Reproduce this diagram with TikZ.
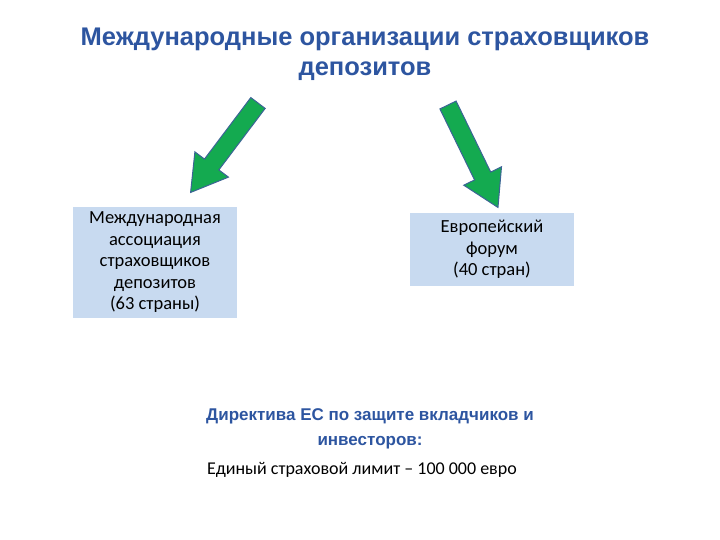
\documentclass[tikz,border=0pt]{standalone}
\usepackage{fontspec}
\setmainfont{Carlito}
\newfontfamily\titlefont{Liberation Sans}
\definecolor{ttl}{RGB}{45,85,160}
\definecolor{boxc}{RGB}{200,218,240}
\definecolor{arr}{RGB}{20,170,80}
\definecolor{arrb}{RGB}{60,100,150}
\tikzset{
  ttlstyle/.style={text=ttl,font=\titlefont\bfseries\fontsize{25.5}{30}\selectfont,align=center},
  subttl/.style={text=ttl,font=\titlefont\bfseries\fontsize{17}{25}\selectfont,align=center},
  infobox/.style={fill=boxc,font=\fontsize{18.5}{21.5}\selectfont,align=center,inner sep=0pt},
  bigarrow/.style={fill=arr,draw=arrb,line width=1pt,line join=miter}
}
\begin{document}
\begin{tikzpicture}[x=1pt,y=1pt]
\useasboundingbox (0,0) rectangle (720,-540);
\node[ttlstyle] (title) at (365,-54) {Международные организации страховщиков\\депозитов};
\draw[bigarrow,shift={(258,-103)},rotate=233] (0,-9)--(77,-9)--(77,-21)--(112,0)--(77,21)--(77,9)--(0,9)--cycle;
\draw[bigarrow,shift={(448,-105)},rotate=296] (0,-9)--(79,-9)--(79,-21)--(114,0)--(79,21)--(79,9)--(0,9)--cycle;
\node[infobox,minimum width=164pt,minimum height=111pt] (lb) at (155,-262.5) {Международная\\ассоциация\\страховщиков\\депозитов\\(63 страны)};
\node[infobox,minimum width=164pt,minimum height=73pt] (rb) at (492,-249.5) {Европейский\\форум\\(40 стран)};
\node[subttl] (dir) at (370,-429) {Директива ЕС по защите вкладчиков и\\инвесторов:};
\node[font=\fontsize{18}{21}\selectfont] (lim) at (362,-470) {Единый страховой лимит – 100 000 евро};
\end{tikzpicture}
\end{document}
